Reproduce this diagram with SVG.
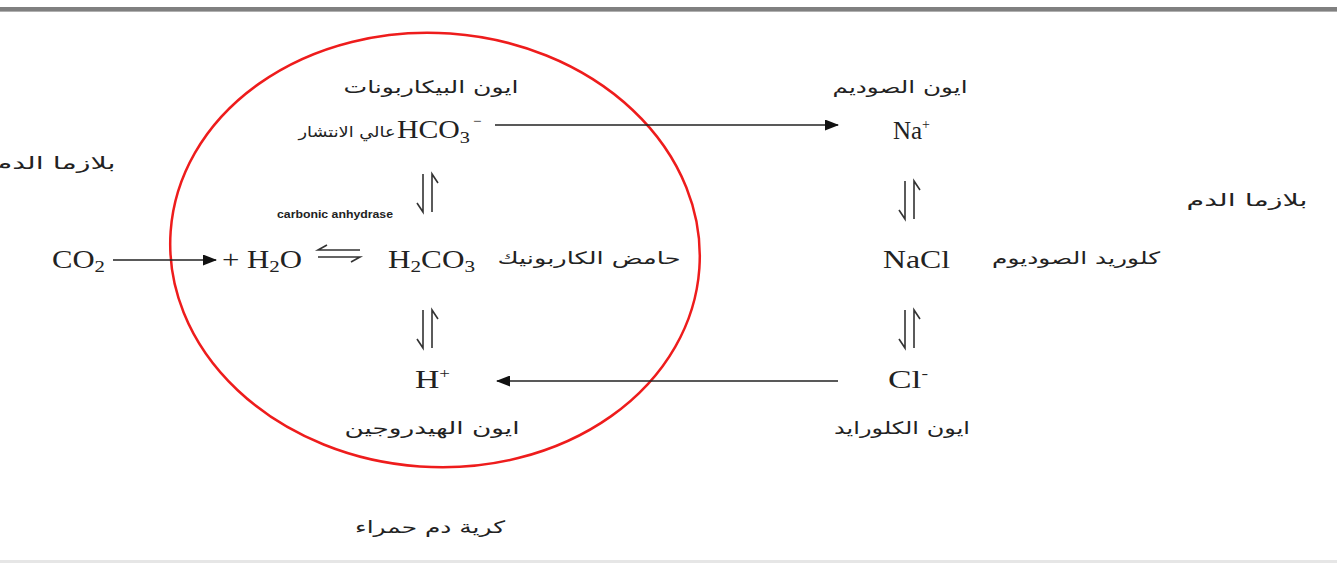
<svg xmlns="http://www.w3.org/2000/svg" width="1337" height="563" viewBox="0 0 1337 563">
<style>
.ar{font-family:"DejaVu Sans","Noto Sans",sans-serif;font-size:17px;fill:#222;text-anchor:middle}
.ch{font-family:"Liberation Serif","Times New Roman",serif;font-size:25px;fill:#222}
.sub{font-size:17px}
.sup{font-size:14px}
.ln{stroke:#222;stroke-width:1.6;fill:none}
.eq{stroke:#333;stroke-width:1.6;fill:none}
</style>
<defs>
<marker id="ah" markerWidth="14" markerHeight="11" refX="13" refY="5.5" orient="auto" markerUnits="userSpaceOnUse">
<path d="M0,0 L14,5.5 L0,11 Z" fill="#111"/>
</marker>
<g id="veq">
<path class="eq" d="M-5,-19 V19 L-11,10"/>
<path class="eq" d="M4,19 V-19 L10,-10"/>
</g>
</defs>
<rect width="1337" height="563" fill="#fff"/>
<rect x="0" y="7" width="1337" height="4" fill="#808080"/>
<rect x="0" y="11" width="1337" height="1" fill="#b0b0b0"/>
<rect x="0" y="560" width="1337" height="3" fill="#e6e6e6"/>

<g id="cell">
<ellipse cx="435" cy="250" rx="265" ry="217" fill="none" stroke="#ee1c1c" stroke-width="2.5" transform="rotate(4 435 250)"/>
<text class="ar" x="430" y="533" textLength="150" lengthAdjust="spacingAndGlyphs">كرية دم حمراء</text>
</g>

<g id="connectors">
<line class="ln" x1="495" y1="125" x2="838" y2="125" marker-end="url(#ah)"/>
<line class="ln" x1="113" y1="260" x2="216" y2="260" marker-end="url(#ah)"/>
<line class="ln" x1="838" y1="381" x2="497" y2="381" marker-end="url(#ah)"/>
<use href="#veq" x="428" y="193"/>
<use href="#veq" x="910" y="200"/>
<use href="#veq" x="428" y="329"/>
<use href="#veq" x="910" y="329"/>
<path class="eq" d="M360,250 H318 L327,245"/>
<path class="eq" d="M318,257 H360 L351,262"/>
</g>

<g id="bicarbonate">
<text class="ar" x="431" y="93" textLength="175" lengthAdjust="spacingAndGlyphs">ايون البيكاربونات</text>
<text class="ar" x="347" y="137" style="font-size:15px" textLength="97" lengthAdjust="spacingAndGlyphs">عالي الانتشار</text>
<text class="ch" x="397" y="138" textLength="73" lengthAdjust="spacingAndGlyphs">HCO<tspan class="sub" dy="5">3</tspan></text>
<text class="ch" x="473" y="126" style="font-size:15px">−</text>
</g>

<g id="sodium">
<text class="ar" x="900" y="93" textLength="135" lengthAdjust="spacingAndGlyphs">ايون الصوديم</text>
<text class="ch" x="893" y="139" textLength="37" lengthAdjust="spacingAndGlyphs">Na<tspan class="sup" dy="-10">+</tspan></text>
</g>

<g id="co2">
<text class="ch" x="52" y="268" textLength="53" lengthAdjust="spacingAndGlyphs">CO<tspan class="sub" dy="4">2</tspan></text>
</g>

<g id="water">
<text class="ch" x="222" y="268" textLength="80" lengthAdjust="spacingAndGlyphs">+ H<tspan class="sub" dy="4">2</tspan><tspan dy="-4">O</tspan></text>
<text x="277" y="218" style="font-family:'Liberation Sans',Arial,sans-serif;font-size:11px;font-weight:bold;fill:#222" textLength="116" lengthAdjust="spacingAndGlyphs">carbonic anhydrase</text>
</g>

<g id="carbonic">
<text class="ch" x="388" y="268" textLength="87" lengthAdjust="spacingAndGlyphs">H<tspan class="sub" dy="4">2</tspan><tspan dy="-4">CO</tspan><tspan class="sub" dy="4">3</tspan></text>
<text class="ar" x="589" y="264" textLength="183" lengthAdjust="spacingAndGlyphs">حامض الكاربونيك</text>
</g>

<g id="nacl">
<text class="ch" x="883" y="268" textLength="67" lengthAdjust="spacingAndGlyphs">NaCl</text>
<text class="ar" x="1076" y="264" textLength="168" lengthAdjust="spacingAndGlyphs">كلوريد الصوديوم</text>
</g>

<g id="hydrogen">
<text class="ch" x="415" y="388" textLength="35" lengthAdjust="spacingAndGlyphs">H<tspan class="sup" dy="-10">+</tspan></text>
<text class="ar" x="432" y="434" textLength="175" lengthAdjust="spacingAndGlyphs">ايون الهيدروجين</text>
</g>

<g id="chloride">
<text class="ch" x="888" y="388" textLength="40" lengthAdjust="spacingAndGlyphs">Cl<tspan class="sup" dy="-10">-</tspan></text>
<text class="ar" x="902" y="434" textLength="136" lengthAdjust="spacingAndGlyphs">ايون الكلورايد</text>
</g>

<g id="plasma-left">
<text class="ar" x="55" y="169" textLength="121" lengthAdjust="spacingAndGlyphs">بلازما الدم</text>
</g>
<g id="plasma-right">
<text class="ar" x="1247" y="206" textLength="121" lengthAdjust="spacingAndGlyphs">بلازما الدم</text>
</g>
</svg>
